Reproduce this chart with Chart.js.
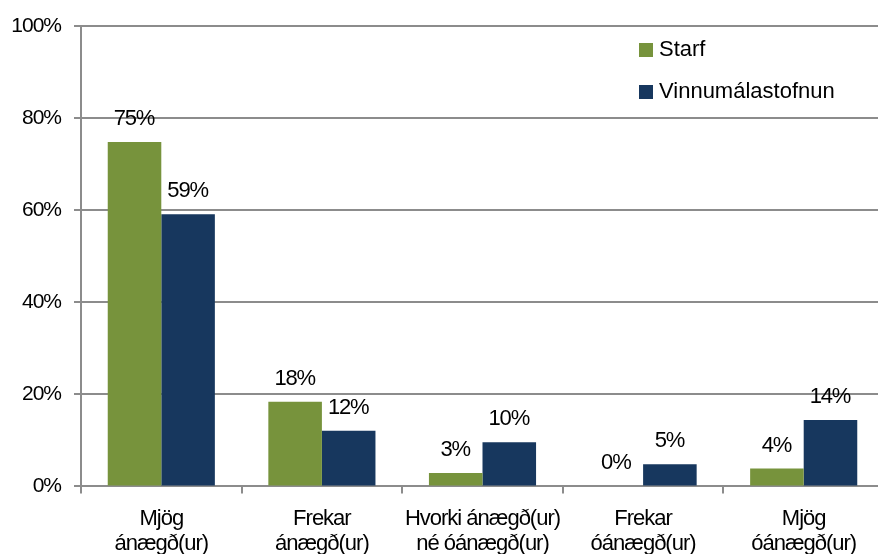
<!DOCTYPE html>
<html>
<head>
<meta charset="utf-8">
<script src="https://cdn.jsdelivr.net/npm/chart.js@4/dist/chart.umd.min.js"></script>
<style>
  html, body { margin: 0; padding: 0; overflow: hidden; background: #fff; }
  #wrap { position: relative; width: 890px; height: 570px; }
</style>
</head>
<body>
<div id="wrap"><canvas id="c"></canvas></div>
<script>
const categories = [
  ['Mjög', 'ánægð(ur)'],
  ['Frekar', 'ánægð(ur)'],
  ['Hvorki ánægð(ur)', 'né óánægð(ur)'],
  ['Frekar', 'óánægð(ur)'],
  ['Mjög', 'óánægð(ur)']
];
const seriesNames = ['Starf', 'Vinnumálastofnun'];
const starf = [74.8, 18.4, 2.9, 0, 3.9];
const vinnumalastofnun = [59.1, 12.1, 9.6, 4.8, 14.4];
const yTicks = [0, 20, 40, 60, 80, 100];

const FONT = "'Liberation Sans', Arial, sans-serif";
const FS = 22;
const LS = '-1px';
const GRID = '#8c8c8c';

const tightText = {
  id: 'tightText',
  beforeLayout(chart) { chart.ctx.letterSpacing = LS; },
  beforeDraw(chart) { chart.ctx.letterSpacing = LS; }
};

const valueLabels = {
  id: 'valueLabels',
  afterDatasetsDraw(chart) {
    const ctx = chart.ctx;
    ctx.save();
    ctx.letterSpacing = '-1.2px';
    ctx.font = FS + 'px ' + FONT;
    ctx.fillStyle = '#000';
    ctx.textAlign = 'center';
    ctx.textBaseline = 'middle';
    chart.data.datasets.forEach((ds, i) => {
      const meta = chart.getDatasetMeta(i);
      meta.data.forEach((bar, j) => {
        ctx.fillText(Math.round(ds.data[j]) + '%', bar.x - 0.5, bar.y - 23);
      });
    });
    ctx.restore();
  }
};

const insideLegend = {
  id: 'insideLegend',
  afterDraw(chart) {
    const ctx = chart.ctx;
    const a = chart.chartArea;
    ctx.save();
    ctx.letterSpacing = '0px';
    ctx.font = '22px ' + FONT;
    ctx.textBaseline = 'middle';
    ctx.textAlign = 'left';
    chart.data.datasets.forEach((ds, i) => {
      const cy = a.top + 24 + i * 42;
      const x = a.right - 245;
      ctx.fillStyle = ds.backgroundColor;
      ctx.fillRect(x, cy - 7, 14, 14);
      ctx.fillStyle = '#000';
      ctx.fillText(ds.label, x + 20, cy);
    });
    ctx.restore();
  }
};

new Chart(document.getElementById('c'), {
  type: 'bar',
  data: {
    labels: categories,
    datasets: [
      { label: seriesNames[0], data: starf, backgroundColor: '#77933C' },
      { label: seriesNames[1], data: vinnumalastofnun, backgroundColor: '#17375E' }
    ]
  },
  options: {
    responsive: true,
    maintainAspectRatio: false,
    animation: false,
    devicePixelRatio: 1,
    categoryPercentage: 0.667,
    barPercentage: 1.0,
    layout: { padding: { left: 12, right: 6, top: 26, bottom: 0 } },
    plugins: {
      legend: { display: false },
      tooltip: { enabled: false }
    },
    scales: {
      x: {
        offset: true,
        grid: {
          offset: true,
          drawOnChartArea: false,
          drawTicks: true,
          tickLength: 7,
          color: GRID,
          lineWidth: 2
        },
        border: { color: GRID, width: 2 },
        ticks: {
          color: '#000',
          font: { family: FONT, size: FS, lineHeight: 1.15 },
          maxRotation: 0,
          autoSkip: false,
          padding: 13
        }
      },
      y: {
        min: 0,
        max: 100,
        afterBuildTicks(scale) { scale.ticks = yTicks.map(v => ({ value: v })); },
        afterFit(scale) { scale.width = 69; },
        grid: {
          color: GRID,
          lineWidth: 2,
          tickLength: 7,
          drawTicks: true
        },
        border: { color: GRID, width: 2 },
        ticks: {
          color: '#000',
          font: { family: FONT, size: 21 },
          padding: 13,
          callback: v => v + '%'
        }
      }
    }
  },
  plugins: [tightText, valueLabels, insideLegend]
});
</script>
</body>
</html>
